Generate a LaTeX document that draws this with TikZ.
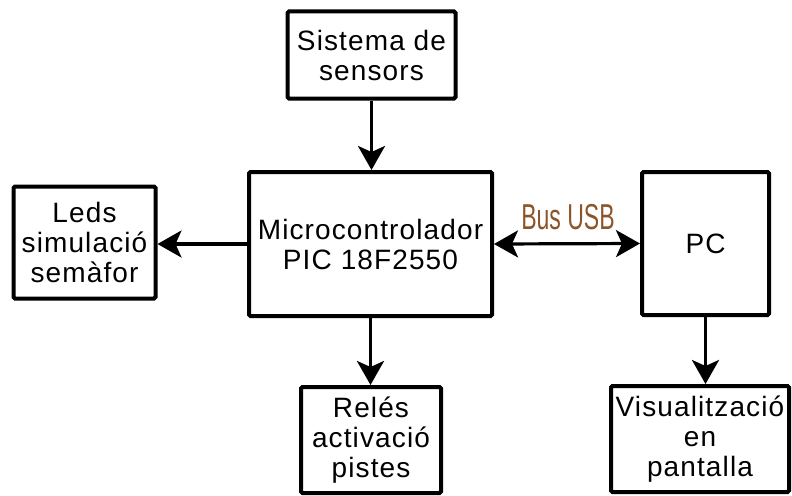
\documentclass[tikz,border=0pt]{standalone}
\usepackage{fontspec}
\setmainfont{Liberation Sans}[LetterSpace=4]
\newfontfamily\busfont{Liberation Sans}
\usetikzlibrary{arrows.meta}
\definecolor{buscol}{RGB}{140,85,40}
\tikzset{
  blockbox/.style={draw=black, line width=4pt, rounded corners=1.5pt, fill=white,
    align=center, inner sep=0pt, font=\fontsize{28}{30}\selectfont},
  bigtip/.tip={Stealth[length=24pt,width=27pt,inset=6pt]},
  flowtip/.style={-bigtip, line width=3.2pt},
  bothtips/.style={bigtip-bigtip, line width=3.2pt}
}
\begin{document}
\begin{tikzpicture}[x=1pt, y=-1pt]
  \useasboundingbox (0,0) rectangle (792,495);

  % blocks
  \node[blockbox, minimum width=168pt, minimum height=87pt] (sens) at (371.5,55) {Sistema de\\sensors};
  \node[blockbox, minimum width=243pt, minimum height=144pt] (micro) at (370.5,244) {Microcontrolador\\PIC 18F2550};
  \node[blockbox, minimum width=142pt, minimum height=112pt] (leds) at (84.5,242.5) {Leds\\simulació\\semàfor};
  \node[blockbox, minimum width=127pt, minimum height=143pt] (pc) at (705.5,243.5) {PC};
  \node[blockbox, minimum width=140pt, minimum height=106pt] (reles) at (371,440) {Relés\\activació\\pistes};
  \node[blockbox, minimum width=178pt, minimum height=106pt] (vis) at (700,439) {Visualització\\en\\pantalla};

  % bus label
  \node[anchor=base, inner sep=0pt, text=buscol, font=\busfont\fontsize{36}{36}\selectfont] (bus) at (568,229) {\scalebox{0.64}[1]{Bus USB}};

  % connectors
  \draw[flowtip] (sens.south -| micro.north) ++(1,0) coordinate (s1) -- (s1 |- micro.north);
  \draw[flowtip] (micro.west) -- (micro.west -| leds.east);
  \draw[flowtip] (micro.south) -- (micro.south |- reles.north);
  \draw[bothtips] (micro.east) -- (pc.west);
  \draw[flowtip] (pc.south) -- (pc.south |- vis.north);
\end{tikzpicture}
\end{document}
